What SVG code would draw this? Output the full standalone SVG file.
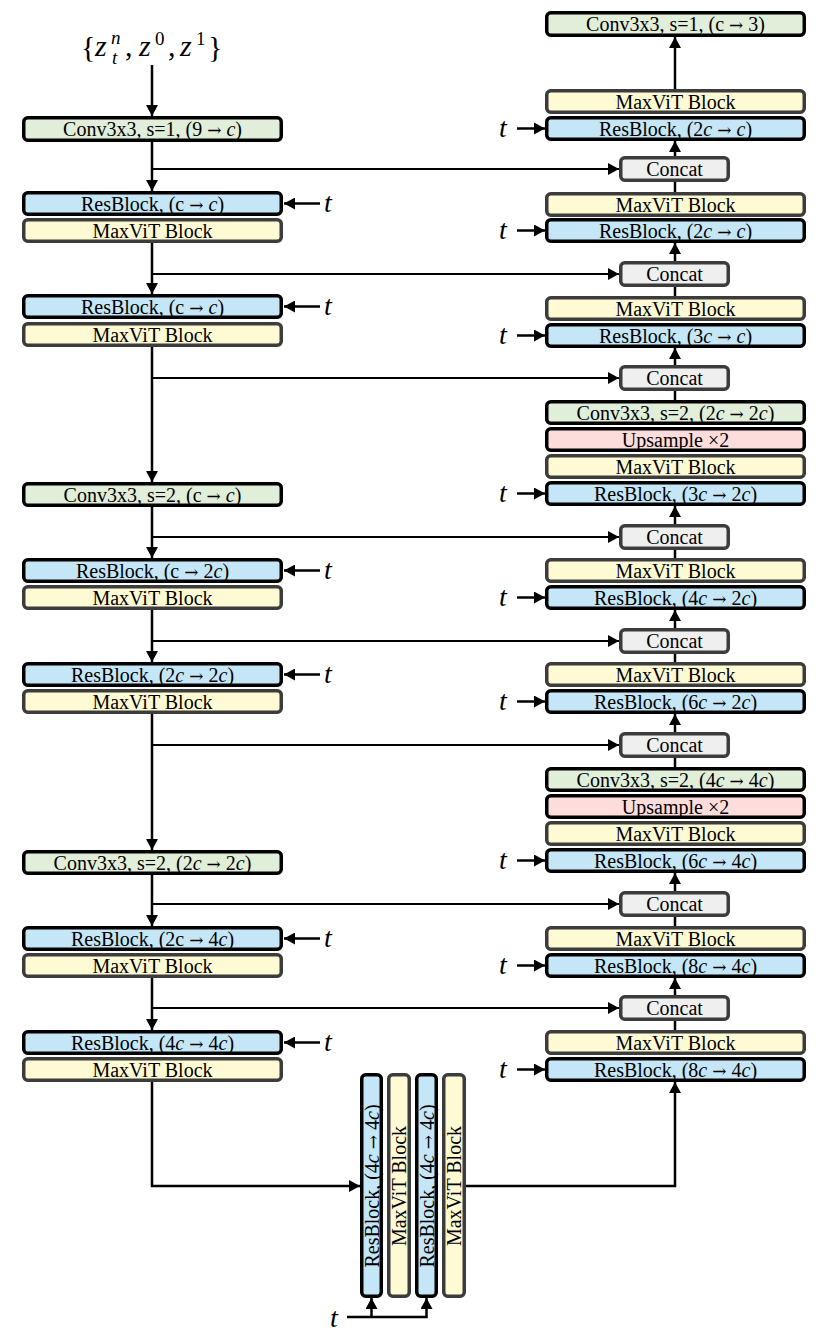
<svg xmlns="http://www.w3.org/2000/svg" width="830" height="1331" viewBox="0 0 830 1331">
<style>
.rb{fill:#c4e6f6;stroke:#000;stroke-width:3.5}
.mv{fill:#fefbd4;stroke:#3c3c3c;stroke-width:3.5}
.cv{fill:#e1eed9;stroke:#000;stroke-width:3.5}
.up{fill:#fddcdc;stroke:#000;stroke-width:3.5}
.cc{fill:#efefef;stroke:#3c3c3c;stroke-width:3.5}
text{font-family:"Liberation Serif","Times New Roman",serif;fill:#000}
.lbl{font-size:20px;text-anchor:middle}
.i{font-style:italic}
.ar{font-family:"DejaVu Serif",serif;font-size:17px}
.tt{font-size:28px;font-style:italic}
.big{font-size:30px}
.sup{font-size:19px}
.ln{stroke:#000;stroke-width:2.5;fill:none}
.br{stroke:#000;stroke-width:2.2;fill:none}
</style>
<defs>
<marker id="ah" viewBox="0 0 11 12" refX="11" refY="6" markerWidth="11" markerHeight="12" markerUnits="userSpaceOnUse" orient="auto">
<path d="M0,0 L11,6 L0,12 z" fill="#000"/>
</marker>
</defs>

<g id="input">
<text class="big" x="81" y="57">{</text>
<text class="big i" x="95" y="56">z</text>
<text class="sup i" x="111" y="44">n</text>
<text class="sup i" x="112" y="64">t</text>
<text class="big" x="125" y="56">,</text>
<text class="big i" x="139" y="56">z</text>
<text class="sup" x="155" y="45">0</text>
<text class="big" x="168" y="56">,</text>
<text class="big i" x="180" y="56">z</text>
<text class="sup" x="196" y="45">1</text>
<text class="big" x="208" y="57">}</text>
</g>

<!-- Left (encoder) column -->
<g id="enc_conv1"><rect class="cv" x="23.75" y="117.75" width="257.5" height="22.5" rx="4"/><text class="lbl" x="152.5" y="136">Conv3x3, s=1, (9 <tspan class="ar">→</tspan> <tspan class="i">c</tspan>)</text></g>
<g id="enc_rb1"><rect class="rb" x="23.75" y="192.75" width="257.5" height="21.5" rx="4"/><text class="lbl" x="152.5" y="210.5">ResBlock, (c <tspan class="ar">→</tspan> <tspan class="i">c</tspan>)</text></g>
<g id="enc_mv1"><rect class="mv" x="23.75" y="219.75" width="257.5" height="21.5" rx="4"/><text class="lbl" x="152.5" y="237.5">MaxViT Block</text></g>
<g id="enc_rb2"><rect class="rb" x="23.75" y="295.75" width="257.5" height="21.5" rx="4"/><text class="lbl" x="152.5" y="313.5">ResBlock, (c <tspan class="ar">→</tspan> <tspan class="i">c</tspan>)</text></g>
<g id="enc_mv2"><rect class="mv" x="23.75" y="323.75" width="257.5" height="21.5" rx="4"/><text class="lbl" x="152.5" y="341.5">MaxViT Block</text></g>
<g id="enc_conv2"><rect class="cv" x="23.75" y="483.75" width="257.5" height="21.5" rx="4"/><text class="lbl" x="152.5" y="501.5">Conv3x3, s=2, (c <tspan class="ar">→</tspan> <tspan class="i">c</tspan>)</text></g>
<g id="enc_rb3"><rect class="rb" x="23.75" y="559.75" width="257.5" height="21.5" rx="4"/><text class="lbl" x="152.5" y="577.5">ResBlock, (c <tspan class="ar">→</tspan> 2<tspan class="i">c</tspan>)</text></g>
<g id="enc_mv3"><rect class="mv" x="23.75" y="586.75" width="257.5" height="21.5" rx="4"/><text class="lbl" x="152.5" y="604.5">MaxViT Block</text></g>
<g id="enc_rb4"><rect class="rb" x="23.75" y="663.75" width="257.5" height="21.5" rx="4"/><text class="lbl" x="152.5" y="681.5">ResBlock, (2<tspan class="i">c</tspan> <tspan class="ar">→</tspan> 2<tspan class="i">c</tspan>)</text></g>
<g id="enc_mv4"><rect class="mv" x="23.75" y="690.75" width="257.5" height="21.5" rx="4"/><text class="lbl" x="152.5" y="708.5">MaxViT Block</text></g>
<g id="enc_conv3"><rect class="cv" x="23.75" y="851.75" width="257.5" height="21.5" rx="4"/><text class="lbl" x="152.5" y="869.5">Conv3x3, s=2, (2<tspan class="i">c</tspan> <tspan class="ar">→</tspan> 2<tspan class="i">c</tspan>)</text></g>
<g id="enc_rb5"><rect class="rb" x="23.75" y="927.75" width="257.5" height="21.5" rx="4"/><text class="lbl" x="152.5" y="945.5">ResBlock, (2c <tspan class="ar">→</tspan> 4<tspan class="i">c</tspan>)</text></g>
<g id="enc_mv5"><rect class="mv" x="23.75" y="954.75" width="257.5" height="21.5" rx="4"/><text class="lbl" x="152.5" y="972.5">MaxViT Block</text></g>
<g id="enc_rb6"><rect class="rb" x="23.75" y="1031.75" width="257.5" height="21.5" rx="4"/><text class="lbl" x="152.5" y="1049.5">ResBlock, (4<tspan class="i">c</tspan> <tspan class="ar">→</tspan> 4<tspan class="i">c</tspan>)</text></g>
<g id="enc_mv6"><rect class="mv" x="23.75" y="1058.75" width="257.5" height="21.5" rx="4"/><text class="lbl" x="152.5" y="1076.5">MaxViT Block</text></g>

<!-- Right (decoder) column -->
<g id="dec_out"><rect class="cv" x="546.75" y="12.75" width="257.5" height="22.5" rx="4"/><text class="lbl" x="675.5" y="31">Conv3x3, s=1, (c <tspan class="ar">→</tspan> 3)</text></g>
<g id="dec_mv1"><rect class="mv" x="546.75" y="90.75" width="257.5" height="21.5" rx="4"/><text class="lbl" x="675.5" y="108.5">MaxViT Block</text></g>
<g id="dec_rb1"><rect class="rb" x="546.75" y="117.75" width="257.5" height="21.5" rx="4"/><text class="lbl" x="675.5" y="135.5">ResBlock, (2<tspan class="i">c</tspan> <tspan class="ar">→</tspan> <tspan class="i">c</tspan>)</text></g>
<g id="dec_cc1"><rect class="cc" x="620.75" y="157.75" width="107.5" height="22.5" rx="4"/><text class="lbl" x="674.5" y="176">Concat</text></g>
<g id="dec_mv2"><rect class="mv" x="546.75" y="193.75" width="257.5" height="21.5" rx="4"/><text class="lbl" x="675.5" y="211.5">MaxViT Block</text></g>
<g id="dec_rb2"><rect class="rb" x="546.75" y="219.75" width="257.5" height="21.5" rx="4"/><text class="lbl" x="675.5" y="237.5">ResBlock, (2<tspan class="i">c</tspan> <tspan class="ar">→</tspan> <tspan class="i">c</tspan>)</text></g>
<g id="dec_cc2"><rect class="cc" x="620.75" y="262.75" width="107.5" height="22.5" rx="4"/><text class="lbl" x="674.5" y="281">Concat</text></g>
<g id="dec_mv3"><rect class="mv" x="546.75" y="297.75" width="257.5" height="21.5" rx="4"/><text class="lbl" x="675.5" y="315.5">MaxViT Block</text></g>
<g id="dec_rb3"><rect class="rb" x="546.75" y="324.75" width="257.5" height="21.5" rx="4"/><text class="lbl" x="675.5" y="342.5">ResBlock, (3<tspan class="i">c</tspan> <tspan class="ar">→</tspan> <tspan class="i">c</tspan>)</text></g>
<g id="dec_cc3"><rect class="cc" x="620.75" y="366.75" width="107.5" height="22.5" rx="4"/><text class="lbl" x="674.5" y="385">Concat</text></g>
<g id="dec_conv1"><rect class="cv" x="546.75" y="401.75" width="257.5" height="21.5" rx="4"/><text class="lbl" x="675.5" y="419.5">Conv3x3, s=2, (2<tspan class="i">c</tspan> <tspan class="ar">→</tspan> 2<tspan class="i">c</tspan>)</text></g>
<g id="dec_up1"><rect class="up" x="546.75" y="428.75" width="257.5" height="21.5" rx="4"/><text class="lbl" x="675.5" y="446.5">Upsample ×2</text></g>
<g id="dec_mv4"><rect class="mv" x="546.75" y="455.75" width="257.5" height="21.5" rx="4"/><text class="lbl" x="675.5" y="473.5">MaxViT Block</text></g>
<g id="dec_rb4"><rect class="rb" x="546.75" y="482.75" width="257.5" height="21.5" rx="4"/><text class="lbl" x="675.5" y="500.5">ResBlock, (3<tspan class="i">c</tspan> <tspan class="ar">→</tspan> 2<tspan class="i">c</tspan>)</text></g>
<g id="dec_cc4"><rect class="cc" x="620.75" y="525.75" width="107.5" height="22.5" rx="4"/><text class="lbl" x="674.5" y="544">Concat</text></g>
<g id="dec_mv5"><rect class="mv" x="546.75" y="559.75" width="257.5" height="21.5" rx="4"/><text class="lbl" x="675.5" y="577.5">MaxViT Block</text></g>
<g id="dec_rb5"><rect class="rb" x="546.75" y="586.75" width="257.5" height="21.5" rx="4"/><text class="lbl" x="675.5" y="604.5">ResBlock, (4<tspan class="i">c</tspan> <tspan class="ar">→</tspan> 2<tspan class="i">c</tspan>)</text></g>
<g id="dec_cc5"><rect class="cc" x="620.75" y="629.75" width="107.5" height="22.5" rx="4"/><text class="lbl" x="674.5" y="648">Concat</text></g>
<g id="dec_mv6"><rect class="mv" x="546.75" y="663.75" width="257.5" height="21.5" rx="4"/><text class="lbl" x="675.5" y="681.5">MaxViT Block</text></g>
<g id="dec_rb6"><rect class="rb" x="546.75" y="690.75" width="257.5" height="21.5" rx="4"/><text class="lbl" x="675.5" y="708.5">ResBlock, (6<tspan class="i">c</tspan> <tspan class="ar">→</tspan> 2<tspan class="i">c</tspan>)</text></g>
<g id="dec_cc6"><rect class="cc" x="620.75" y="733.75" width="107.5" height="22.5" rx="4"/><text class="lbl" x="674.5" y="752">Concat</text></g>
<g id="dec_conv2"><rect class="cv" x="546.75" y="768.75" width="257.5" height="21.5" rx="4"/><text class="lbl" x="675.5" y="786.5">Conv3x3, s=2, (4<tspan class="i">c</tspan> <tspan class="ar">→</tspan> 4<tspan class="i">c</tspan>)</text></g>
<g id="dec_up2"><rect class="up" x="546.75" y="795.75" width="257.5" height="21.5" rx="4"/><text class="lbl" x="675.5" y="813.5">Upsample ×2</text></g>
<g id="dec_mv7"><rect class="mv" x="546.75" y="822.75" width="257.5" height="21.5" rx="4"/><text class="lbl" x="675.5" y="840.5">MaxViT Block</text></g>
<g id="dec_rb7"><rect class="rb" x="546.75" y="849.75" width="257.5" height="21.5" rx="4"/><text class="lbl" x="675.5" y="867.5">ResBlock, (6<tspan class="i">c</tspan> <tspan class="ar">→</tspan> 4<tspan class="i">c</tspan>)</text></g>
<g id="dec_cc7"><rect class="cc" x="620.75" y="892.75" width="107.5" height="22.5" rx="4"/><text class="lbl" x="674.5" y="911">Concat</text></g>
<g id="dec_mv8"><rect class="mv" x="546.75" y="927.75" width="257.5" height="21.5" rx="4"/><text class="lbl" x="675.5" y="945.5">MaxViT Block</text></g>
<g id="dec_rb8"><rect class="rb" x="546.75" y="954.75" width="257.5" height="21.5" rx="4"/><text class="lbl" x="675.5" y="972.5">ResBlock, (8<tspan class="i">c</tspan> <tspan class="ar">→</tspan> 4<tspan class="i">c</tspan>)</text></g>
<g id="dec_cc8"><rect class="cc" x="620.75" y="996.75" width="107.5" height="22.5" rx="4"/><text class="lbl" x="674.5" y="1015">Concat</text></g>
<g id="dec_mv9"><rect class="mv" x="546.75" y="1031.75" width="257.5" height="21.5" rx="4"/><text class="lbl" x="675.5" y="1049.5">MaxViT Block</text></g>
<g id="dec_rb9"><rect class="rb" x="546.75" y="1058.75" width="257.5" height="21.5" rx="4"/><text class="lbl" x="675.5" y="1076.5">ResBlock, (8<tspan class="i">c</tspan> <tspan class="ar">→</tspan> 4<tspan class="i">c</tspan>)</text></g>

<!-- Bottleneck -->
<g id="mid_rb1"><rect class="rb" x="361.75" y="1074.75" width="19.5" height="221.5" rx="4"/><text class="lbl" transform="translate(371.5,1186) rotate(-90)" y="7">ResBlock, (4<tspan class="i">c</tspan> <tspan class="ar">→</tspan> 4<tspan class="i">c</tspan>)</text></g>
<g id="mid_mv1"><rect class="mv" x="388.75" y="1074.75" width="20.5" height="221.5" rx="4"/><text class="lbl" transform="translate(399,1186) rotate(-90)" y="7">MaxViT Block</text></g>
<g id="mid_rb2"><rect class="rb" x="416.75" y="1074.75" width="19.5" height="221.5" rx="4"/><text class="lbl" transform="translate(426.5,1186) rotate(-90)" y="7">ResBlock, (4<tspan class="i">c</tspan> <tspan class="ar">→</tspan> 4<tspan class="i">c</tspan>)</text></g>
<g id="mid_mv2"><rect class="mv" x="443.75" y="1074.75" width="20.5" height="221.5" rx="4"/><text class="lbl" transform="translate(454,1186) rotate(-90)" y="7">MaxViT Block</text></g>

<!-- t labels -->
<g id="t_labels">
<text class="tt" x="324" y="212">t</text>
<text class="tt" x="324" y="315">t</text>
<text class="tt" x="324" y="579">t</text>
<text class="tt" x="324" y="683">t</text>
<text class="tt" x="324" y="947">t</text>
<text class="tt" x="324" y="1051">t</text>
<text class="tt" x="499" y="137">t</text>
<text class="tt" x="499" y="239">t</text>
<text class="tt" x="499" y="344">t</text>
<text class="tt" x="499" y="502">t</text>
<text class="tt" x="499" y="606">t</text>
<text class="tt" x="499" y="710">t</text>
<text class="tt" x="499" y="869">t</text>
<text class="tt" x="499" y="974">t</text>
<text class="tt" x="499" y="1078">t</text>
<text class="tt" x="330" y="1327">t</text>
</g>

<g id="connectors">
<!-- encoder trunk -->
<path class="ln" d="M152,65 V116" marker-end="url(#ah)"/>
<path class="ln" d="M152,142 V191" marker-end="url(#ah)"/>
<path class="ln" d="M152,243 V294" marker-end="url(#ah)"/>
<path class="ln" d="M152,347 V482" marker-end="url(#ah)"/>
<path class="ln" d="M152,507 V558" marker-end="url(#ah)"/>
<path class="ln" d="M152,610 V662" marker-end="url(#ah)"/>
<path class="ln" d="M152,714 V850" marker-end="url(#ah)"/>
<path class="ln" d="M152,875 V926" marker-end="url(#ah)"/>
<path class="ln" d="M152,978 V1030" marker-end="url(#ah)"/>
<path class="ln" d="M152,1082 V1186 H360" marker-end="url(#ah)"/>
<!-- skip connections -->
<path class="br" d="M152,169 H619" marker-end="url(#ah)"/>
<path class="br" d="M152,274 H619" marker-end="url(#ah)"/>
<path class="br" d="M152,378 H619" marker-end="url(#ah)"/>
<path class="br" d="M152,537 H619" marker-end="url(#ah)"/>
<path class="br" d="M152,641 H619" marker-end="url(#ah)"/>
<path class="br" d="M152,745 H619" marker-end="url(#ah)"/>
<path class="br" d="M152,904 H619" marker-end="url(#ah)"/>
<path class="br" d="M152,1008 H619" marker-end="url(#ah)"/>
<!-- decoder trunk -->
<path class="ln" d="M466,1186 H675 V1082" marker-end="url(#ah)"/>
<path class="ln" d="M675,1030 V1021"/>
<path class="ln" d="M675,995 V978" marker-end="url(#ah)"/>
<path class="ln" d="M675,926 V917"/>
<path class="ln" d="M675,891 V873" marker-end="url(#ah)"/>
<path class="ln" d="M675,767 V758"/>
<path class="ln" d="M675,732 V714" marker-end="url(#ah)"/>
<path class="ln" d="M675,662 V654"/>
<path class="ln" d="M675,628 V610" marker-end="url(#ah)"/>
<path class="ln" d="M675,558 V550"/>
<path class="ln" d="M675,524 V506" marker-end="url(#ah)"/>
<path class="ln" d="M675,400 V391"/>
<path class="ln" d="M675,365 V348" marker-end="url(#ah)"/>
<path class="ln" d="M675,296 V287"/>
<path class="ln" d="M675,261 V243" marker-end="url(#ah)"/>
<path class="ln" d="M675,192 V182"/>
<path class="ln" d="M675,156 V141" marker-end="url(#ah)"/>
<path class="ln" d="M675,89 V37" marker-end="url(#ah)"/>
<!-- t inputs, encoder -->
<path class="ln" d="M320,203.5 H284" marker-end="url(#ah)"/>
<path class="ln" d="M320,306.5 H284" marker-end="url(#ah)"/>
<path class="ln" d="M320,570.5 H284" marker-end="url(#ah)"/>
<path class="ln" d="M320,674.5 H284" marker-end="url(#ah)"/>
<path class="ln" d="M320,938.5 H284" marker-end="url(#ah)"/>
<path class="ln" d="M320,1042.5 H284" marker-end="url(#ah)"/>
<!-- t inputs, decoder -->
<path class="ln" d="M517,128.5 H545" marker-end="url(#ah)"/>
<path class="ln" d="M517,230.5 H545" marker-end="url(#ah)"/>
<path class="ln" d="M517,335.5 H545" marker-end="url(#ah)"/>
<path class="ln" d="M517,493.5 H545" marker-end="url(#ah)"/>
<path class="ln" d="M517,597.5 H545" marker-end="url(#ah)"/>
<path class="ln" d="M517,701.5 H545" marker-end="url(#ah)"/>
<path class="ln" d="M517,860.5 H545" marker-end="url(#ah)"/>
<path class="ln" d="M517,965.5 H545" marker-end="url(#ah)"/>
<path class="ln" d="M517,1069.5 H545" marker-end="url(#ah)"/>
<!-- t inputs, bottleneck -->
<path class="ln" d="M347,1317 H426.5 V1298" marker-end="url(#ah)"/>
<path class="ln" d="M371.5,1317 V1298" marker-end="url(#ah)"/>
</g>
</svg>
